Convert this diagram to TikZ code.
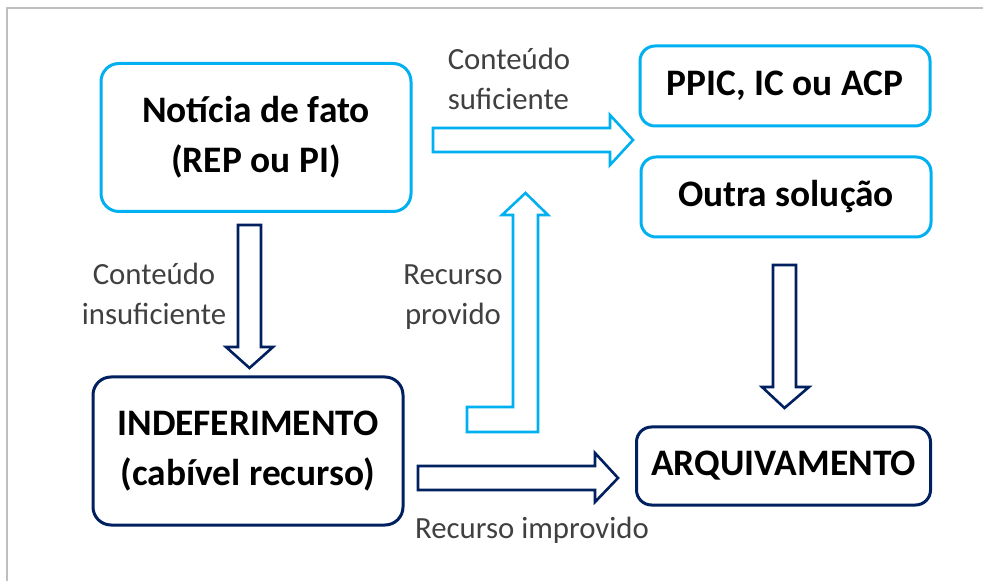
\documentclass[tikz,border=0pt]{standalone}
\usepackage{fontspec}
\setmainfont{Carlito}
\usetikzlibrary{shapes, arrows}
\definecolor{lightblue}{RGB}{0,176,240}
\definecolor{navy}{RGB}{0,32,96}
\definecolor{labelgray}{RGB}{64,64,64}
\definecolor{framegray}{RGB}{191,191,191}
\tikzstyle{bluebox} = [rectangle, rounded corners=9pt, draw=lightblue, line width=1.5pt, align=center, font=\bfseries\fontsize{18.7}{25}\selectfont]
\tikzstyle{navybox} = [bluebox, draw=navy]
\tikzstyle{arrowtext} = [text=labelgray, align=center, font=\fontsize{15.4}{20}\selectfont]
\tikzstyle{bluearrow} = [draw=lightblue, line width=1.3pt, fill=white]
\tikzstyle{navyarrow} = [draw=navy, line width=1.3pt, fill=white]
\tikzstyle{frame} = [draw=framegray, line width=1pt]

\begin{document}
\begin{tikzpicture}[x=0.5pt, y=-0.5pt]
    \useasboundingbox (0,0) rectangle (983,581);
    \coordinate (framecorner) at (7,8);
    \draw [frame] (framecorner) ++(0,573) -- (framecorner) -- ++(976,0);

    \node (noticia) [bluebox, minimum width=155pt, minimum height=74pt] at (256,137.5) {Notícia de fato\\(REP ou PI)};
    \node (ppic) [bluebox, rounded corners=7.5pt, minimum width=145pt, minimum height=40pt] at (785,86) {PPIC, IC ou ACP};
    \node (outra) [bluebox, rounded corners=7.5pt, minimum width=145pt, minimum height=40pt] at (786,197) {Outra solução};
    \node (indef) [navybox, minimum width=155pt, minimum height=74pt] at (248,451) {INDEFERIMENTO\\(cabível recurso)};
    \node (arq) [navybox, rounded corners=7.5pt, minimum width=147pt, minimum height=39pt] at (783.5,466) {ARQUIVAMENTO};

    \node (suftext) [arrowtext, align=left] at (509,79) {Conteúdo\\suficiente};
    \node (insuftext) [arrowtext] at (154,294) {Conteúdo\\insuficiente};
    \node (provtext) [arrowtext] at (453,297) {Recurso\\provido};
    \node (improvtext) [arrowtext] at (532,530) {Recurso improvido};

    \coordinate (sufstart) at (433,128);
    \coordinate (provstart) at (467,407);
    \coordinate (insufstart) at (238,225);
    \coordinate (arqstart) at (773,265);
    \coordinate (improvstart) at (418,466);

    \draw [bluearrow] (sufstart) -- ++(177,0) -- ++(0,-13) -- ++(23,25) -- ++(-23,25) -- ++(0,-13) -- ++(-177,0) -- cycle;
    \draw [bluearrow] (provstart) -- ++(46,0) -- ++(0,-192) -- ++(-11,0) -- ++(23.5,-22) -- ++(22.5,22) -- ++(-10,0) -- ++(0,217) -- ++(-71,0) -- cycle;
    \draw [navyarrow] (insufstart) -- ++(23,0) -- ++(0,122) -- ++(12,0) -- ++(-23.5,21) -- ++(-23.5,-21) -- ++(12,0) -- cycle;
    \draw [navyarrow] (arqstart) -- ++(23,0) -- ++(0,122) -- ++(13,0) -- ++(-24.5,21) -- ++(-22.5,-21) -- ++(11,0) -- cycle;
    \draw [navyarrow] (improvstart) -- ++(177,0) -- ++(0,-13) -- ++(23,25) -- ++(-23,24) -- ++(0,-12) -- ++(-177,0) -- cycle;
\end{tikzpicture}
\end{document}
